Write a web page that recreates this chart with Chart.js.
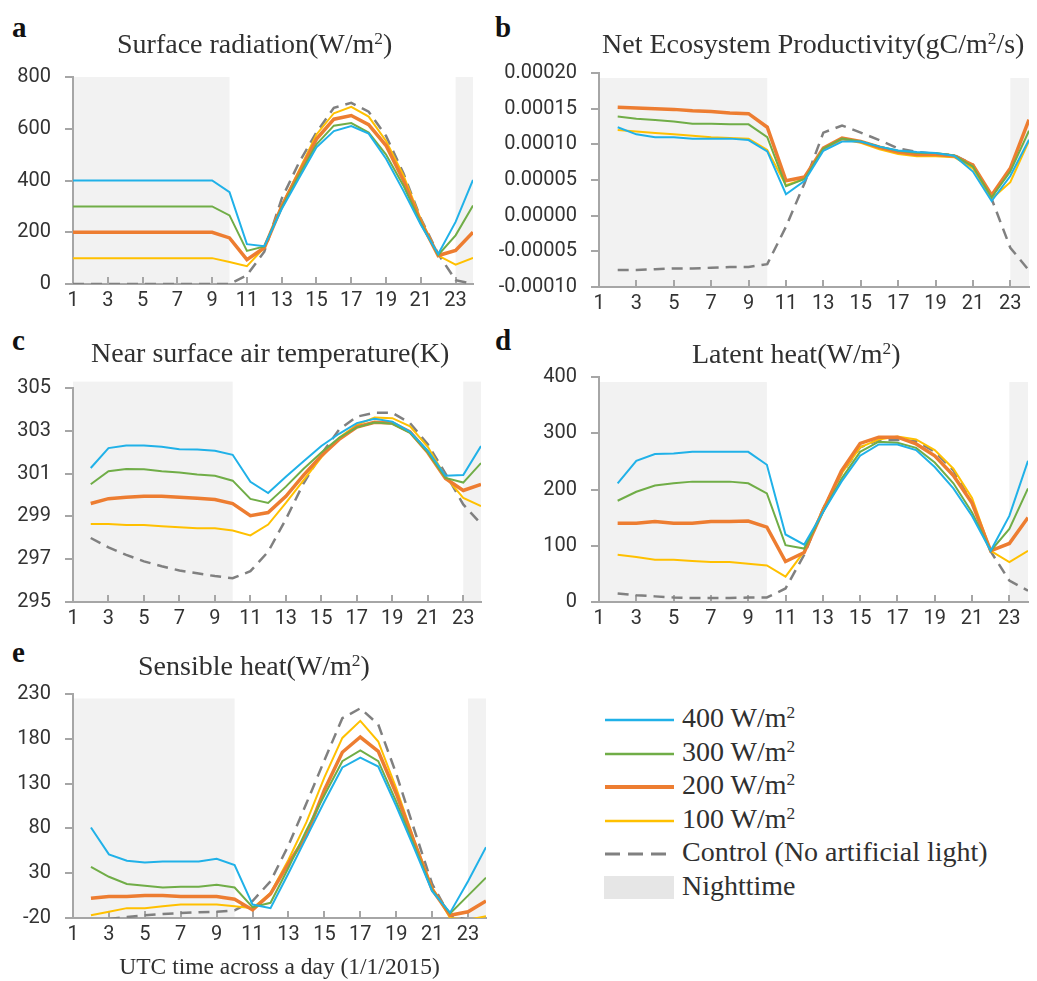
<!DOCTYPE html>
<html>
<head>
<meta charset="utf-8">
<script src="https://cdn.jsdelivr.net/npm/chart.js"></script>
<style>
    html, body { margin: 0; padding: 0; background: #fff; overflow: hidden; }
    body { width: 1037px; height: 981px; position: relative; font-family: "Liberation Serif", "Times New Roman", serif; color: #303030; }
    canvas { position: absolute; }
    .letter { position: absolute; font-weight: bold; font-size: 29px; line-height: 29px; color: #111; }
    .title { position: absolute; font-size: 28px; line-height: 28px; white-space: nowrap; }
    sup { font-size: 0.62em; line-height: 0; vertical-align: 0.5em; }
    .row { position: absolute; left: 604px; width: 420px; height: 28px; white-space: nowrap; font-size: 28px; line-height: 28px; }
    .row svg { position: absolute; left: 0; top: 0; }
    .row span { position: absolute; left: 78px; top: -2px; }
</style>
</head>
<body>
<div class="letter" style="left:12px;top:13px">a</div>
<div class="letter" style="left:495px;top:13px">b</div>
<div class="letter" style="left:12px;top:326px">c</div>
<div class="letter" style="left:495px;top:326px">d</div>
<div class="letter" style="left:12px;top:638px">e</div>

<canvas id="panelA"></canvas>
<canvas id="panelB"></canvas>
<canvas id="panelC"></canvas>
<canvas id="panelD"></canvas>
<canvas id="panelE"></canvas>
<div id="titles"></div>
<div id="legend"></div>

<script>
const hours = [1, 2, 3, 4, 5, 6, 7, 8, 9, 10, 11, 12, 13, 14, 15, 16, 17, 18, 19, 20, 21, 22, 23, 24]
const xTickHours = [1, 3, 5, 7, 9, 11, 13, 15, 17, 19, 21, 23]
const nightStart = [1, 23]
const nightEnd = [10, 24]

const seriesNames = ["400 W/m²", "300 W/m²", "200 W/m²", "100 W/m²", "Control (No artificial light)"]
const nightName = "Nighttime"
const panelTitles = [
    "Surface radiation(W/m²)",
    "Net Ecosystem Productivity(gC/m²/s)",
    "Near surface air temperature(K)",
    "Latent heat(W/m²)",
    "Sensible heat(W/m²)",
]
const xAxisTitle = "UTC time across a day (1/1/2015)"

// a: surface radiation
const rad400 = [400, 400, 400, 400, 400, 400, 400, 400, 400, 355, 154, 146, 290, 410, 528, 591, 610, 581, 484, 360, 229, 116, 240, 402]
const rad300 = [300, 300, 300, 300, 300, 300, 300, 300, 300, 265, 128, 145, 295, 420, 540, 612, 622, 585, 500, 380, 235, 112, 188, 303]
const rad200 = [200, 200, 200, 200, 200, 200, 200, 200, 200, 178, 94, 140, 300, 430, 560, 637, 651, 616, 535, 400, 240, 110, 130, 200]
const rad100 = [100, 100, 100, 100, 100, 100, 100, 100, 100, 85, 69, 140, 305, 440, 578, 660, 685, 647, 553, 420, 250, 110, 75, 101]
const radCtl = [0, 0, 0, 0, 0, 0, 0, 0, 0, 0, 34, 125, 330, 470, 586, 681, 700, 666, 572, 428, 253, 116, 15, 0]

// b: net ecosystem productivity
const nep400 = [null, 0.000124, 0.000114, 0.000110, 0.000110, 0.000108, 0.000108, 0.000108, 0.000106, 0.000090, 0.000030, 0.000049, 0.000091, 0.000104, 0.000104, 0.0000968, 0.0000914, 0.0000891, 0.0000877, 0.0000841, 0.0000618, 0.0000205, 0.0000555, 0.0001064]
const nep300 = [null, 0.000139, 0.000136, 0.000134, 0.000132, 0.000129, 0.000129, 0.000128, 0.000128, 0.000110, 0.0000414, 0.0000514, 0.0000941, 0.000108, 0.000104, 0.0000968, 0.000091, 0.0000882, 0.000088, 0.0000845, 0.0000689, 0.0000255, 0.0000618, 0.000119]
const nep200 = [null, 0.000152, 0.000151, 0.000150, 0.000149, 0.000147, 0.000146, 0.000144, 0.000143, 0.000124, 0.0000491, 0.0000541, 0.0000946, 0.0001086, 0.0001041, 0.0000959, 0.0000891, 0.0000859, 0.0000859, 0.0000836, 0.0000709, 0.0000286, 0.0000664, 0.0001345]
const nep100 = [null, 0.000120, 0.000118, 0.000116, 0.000114, 0.000112, 0.000110, 0.000109, 0.000108, 0.000092, 0.0000427, 0.0000518, 0.0000941, 0.000107, 0.0001023, 0.0000932, 0.0000864, 0.0000832, 0.0000832, 0.000082, 0.0000664, 0.0000236, 0.000047, 0.000105]
const nepCtl = [null, -0.000076, -0.000076, -0.000075, -0.000074, -0.000074, -0.000073, -0.000072, -0.000072, -0.000068, -0.0000155, 0.0000459, 0.0001164, 0.0001264, 0.0001164, 0.0001059, 0.0000941, 0.0000895, 0.0000864, 0.000085, 0.0000714, 0.0000236, -0.000045, -0.0000768]

// c: near surface air temperature
const tas400 = [null, 301.26, 302.19, 302.31, 302.31, 302.25, 302.14, 302.13, 302.07, 301.88, 300.62, 300.09, 300.85, 301.58, 302.29, 302.86, 303.36, 303.56, 303.43, 302.95, 302.07, 300.9, 300.93, 302.29]
const tas300 = [null, 300.5, 301.11, 301.22, 301.2, 301.11, 301.05, 300.96, 300.9, 300.67, 299.82, 299.63, 300.39, 301.23, 301.99, 302.67, 303.16, 303.39, 303.33, 302.9, 301.99, 300.8, 300.58, 301.49]
const tas200 = [null, 299.6, 299.83, 299.89, 299.94, 299.94, 299.89, 299.85, 299.79, 299.6, 299.03, 299.18, 299.94, 300.93, 301.84, 302.6, 303.18, 303.4, 303.36, 302.95, 301.99, 300.77, 300.21, 300.5]
const tas100 = [null, 298.65, 298.65, 298.6, 298.6, 298.54, 298.49, 298.45, 298.45, 298.34, 298.11, 298.62, 299.63, 300.7, 301.76, 302.67, 303.28, 303.62, 303.59, 303.21, 302.25, 300.85, 299.86, 299.48]
const tasCtl = [null, 297.99, 297.55, 297.2, 296.9, 296.67, 296.47, 296.34, 296.21, 296.11, 296.44, 297.35, 298.87, 300.55, 301.91, 303.05, 303.66, 303.84, 303.84, 303.36, 302.37, 301.0, 299.56, 298.65]

// d: latent heat
const lh400 = [null, 211, 251, 263, 264, 267, 267, 267, 267, 244, 120, 102, 159, 214, 260, 280, 280, 270, 240, 202, 153, 91, 153, 251]
const lh300 = [null, 180, 196, 207, 211, 214, 214, 214, 211, 193, 101, 95, 159, 219, 267, 285, 283, 274, 248, 211, 159, 91, 130, 202]
const lh200 = [null, 140, 140, 143, 140, 140, 143, 143, 144, 133, 72, 88, 162, 233, 282, 293, 293, 281, 260, 225, 176, 91, 104, 150]
const lh100 = [null, 84, 80, 75, 75, 73, 71, 71, 68, 65, 45, 90, 165, 228, 275, 289, 294, 289, 270, 237, 185, 91, 71, 91]
const lhCtl = [null, 15, 12, 10, 8, 7, 7, 7, 8, 8, 24, 84, 165, 228, 275, 288, 288, 286, 267, 234, 176, 90, 38, 20]

// e: sensible heat
const sh400 = [null, 81, 51, 44, 42, 43, 43, 43, 46, 39, -5, -9, 30, 70, 110, 148, 159, 149, 105, 58, 10, -14, 21, 59]
const sh300 = [null, 37, 26, 18, 16, 14, 15, 15, 17, 14, -8, -3, 36, 78, 117, 155, 167, 155, 110, 61, 11, -15, 5, 25]
const sh200 = [null, 2, 4, 4, 5, 5, 4, 4, 4, 1, -11, 7, 41, 72, 123, 165, 182, 166, 119, 65, 12, -17, -13, -1]
const sh100 = [null, -17, -13, -9, -9, -7, -5, -5, -5, -7, -9, 8, 45, 87, 137, 181, 200, 177, 125, 67, 14, -20, -22, -18]
const shCtl = [null, -24, -21, -19, -17, -15.5, -14.5, -13.5, -13, -11.5, -1, 21, 61, 108, 156, 203, 214, 196, 141, 79, 18, -18, -22, -22]

const seriesColors = ["#20B1E8", "#70AD47", "#ED7D31", "#FFC000", "#808080"]
const seriesWidths = [2, 2, 3.5, 2, 2.5]
const seriesDashes = [[], [], [], [], [11, 7]]
const nightColor = "#F2F2F2"
const axisColor = "#A6A6A6"
const tickColor = "#333333"
const tickFont = { family: "Roboto", size: 20 }

// grey nighttime bands, placed through the chart's own scales
const nightShade = {
    id: "nightShade",
    beforeDraw(chart, args, opts) {
        const xs = chart.scales.x
        const ys = chart.scales.y
        const top = ys.getPixelForValue(opts.top)
        const bottom = chart.chartArea.bottom
        const ctx = chart.ctx
        ctx.save()
        ctx.fillStyle = nightColor
        nightStart.forEach((start, i) => {
            const x0 = xs.getPixelForValue(start)
            const x1 = xs.getPixelForValue(nightEnd[i])
            ctx.fillRect(x0, top, x1 - x0, bottom - top)
        })
        ctx.restore()
    }
}

function supHtml(text) {
    return text.replace(/²/g, "<sup>2</sup>")
}

function makePanel(id, box, series, yAxis, nightTop, withTitle) {
    const canvas = document.getElementById(id)
    const padTop = 20
    const padRight = 8
    const xh = withTitle ? 62 : 40
    canvas.style.left = box.canvasLeft + "px"
    canvas.style.top = (box.top - padTop) + "px"
    canvas.width = box.right + padRight - box.canvasLeft
    canvas.height = box.bottom - box.top + padTop + xh

    new Chart(canvas, {
        type: "line",
        data: {
            labels: hours,
            datasets: series.map((values, i) => ({
                label: seriesNames[i],
                data: values,
                borderColor: seriesColors[i],
                borderWidth: seriesWidths[i],
                borderDash: seriesDashes[i],
                pointRadius: 0,
                tension: 0,
                fill: false,
            })),
        },
        options: {
            responsive: false,
            animation: false,
            devicePixelRatio: 1,
            layout: { padding: { top: padTop, right: padRight, left: 0, bottom: 0 } },
            plugins: {
                legend: { display: false },
                tooltip: { enabled: false },
                nightShade: { top: nightTop },
            },
            scales: {
                x: {
                    type: "linear",
                    min: 1,
                    max: 24,
                    afterBuildTicks: scale => { scale.ticks = xTickHours.map(v => ({ value: v })) },
                    afterFit: scale => { scale.height = xh },
                    grid: { drawOnChartArea: false, color: axisColor, lineWidth: 2, tickLength: -7 },
                    border: { color: axisColor, width: 2 },
                    ticks: { font: tickFont, color: tickColor, padding: 12, maxRotation: 0, autoSkip: false },
                    title: {
                        display: withTitle,
                        text: xAxisTitle,
                        color: "#303030",
                        font: { family: "Liberation Serif", size: 23.5, lineHeight: 1 },
                        padding: 0,
                    },
                },
                y: {
                    min: yAxis.min,
                    max: yAxis.max,
                    afterFit: scale => { scale.width = box.left - box.canvasLeft },
                    grid: { drawOnChartArea: false, color: axisColor, lineWidth: 2, tickLength: 8 },
                    border: { color: axisColor, width: 2 },
                    ticks: {
                        stepSize: yAxis.step,
                        font: tickFont,
                        color: tickColor,
                        padding: 14,
                        callback: yAxis.format,
                    },
                },
            },
        },
        plugins: [nightShade],
    })
}

const plain = v => String(v)
const fiveDigits = v => (Math.abs(v) < 1e-12 ? 0 : v).toFixed(5)

makePanel("panelA", { canvasLeft: 0, left: 73, right: 473, top: 71, bottom: 284 },
    [rad400, rad300, rad200, rad100, radCtl], { min: 0, max: 800, step: 200, format: plain }, 800, false)
makePanel("panelB", { canvasLeft: 490, left: 599, right: 1029, top: 67, bottom: 287 },
    [nep400, nep300, nep200, nep100, nepCtl], { min: -0.0001, max: 0.0002, step: 0.00005, format: fiveDigits }, 0.000193, false)
makePanel("panelC", { canvasLeft: 0, left: 73, right: 481, top: 382, bottom: 602 },
    [tas400, tas300, tas200, tas100, tasCtl], { min: 295, max: 305, step: 2, format: plain }, 305.3, false)
makePanel("panelD", { canvasLeft: 490, left: 599, right: 1028, top: 371, bottom: 602 },
    [lh400, lh300, lh200, lh100, lhCtl], { min: 0, max: 400, step: 100, format: plain }, 391, false)
makePanel("panelE", { canvasLeft: 0, left: 73, right: 486, top: 688, bottom: 918 },
    [sh400, sh300, sh200, sh100, shCtl], { min: -20, max: 230, step: 50, format: plain }, 225, true)

// panel titles
const titlePos = [[117, 30], [602, 30], [91, 339], [692, 340], [138, 652]]
const titles = document.getElementById("titles")
panelTitles.forEach((t, i) => {
    const div = document.createElement("div")
    div.className = "title"
    div.style.left = titlePos[i][0] + "px"
    div.style.top = titlePos[i][1] + "px"
    div.innerHTML = supHtml(t)
    titles.appendChild(div)
})

// legend
const legend = document.getElementById("legend")
const rowY = [720, 754, 787, 821, 854, 888]
seriesNames.forEach((name, i) => {
    const row = document.createElement("div")
    row.className = "row"
    row.style.top = (rowY[i] - 14) + "px"
    const dash = seriesDashes[i].length ? 'stroke-dasharray="15 8"' : ""
    row.innerHTML = '<svg width="72" height="28"><line x1="1" y1="14" x2="70" y2="14" stroke="' +
        seriesColors[i] + '" stroke-width="' + (seriesWidths[i] + 0.5) + '" ' + dash + '/></svg>' +
        "<span>" + supHtml(name) + "</span>"
    legend.appendChild(row)
})
const nightRow = document.createElement("div")
nightRow.className = "row"
nightRow.style.top = (rowY[5] - 14) + "px"
nightRow.innerHTML = '<svg width="72" height="28"><rect x="0" y="2" width="70" height="23" fill="#E6E6E6"/></svg>' +
    "<span>" + nightName + "</span>"
legend.appendChild(nightRow)
</script>
</body>
</html>
